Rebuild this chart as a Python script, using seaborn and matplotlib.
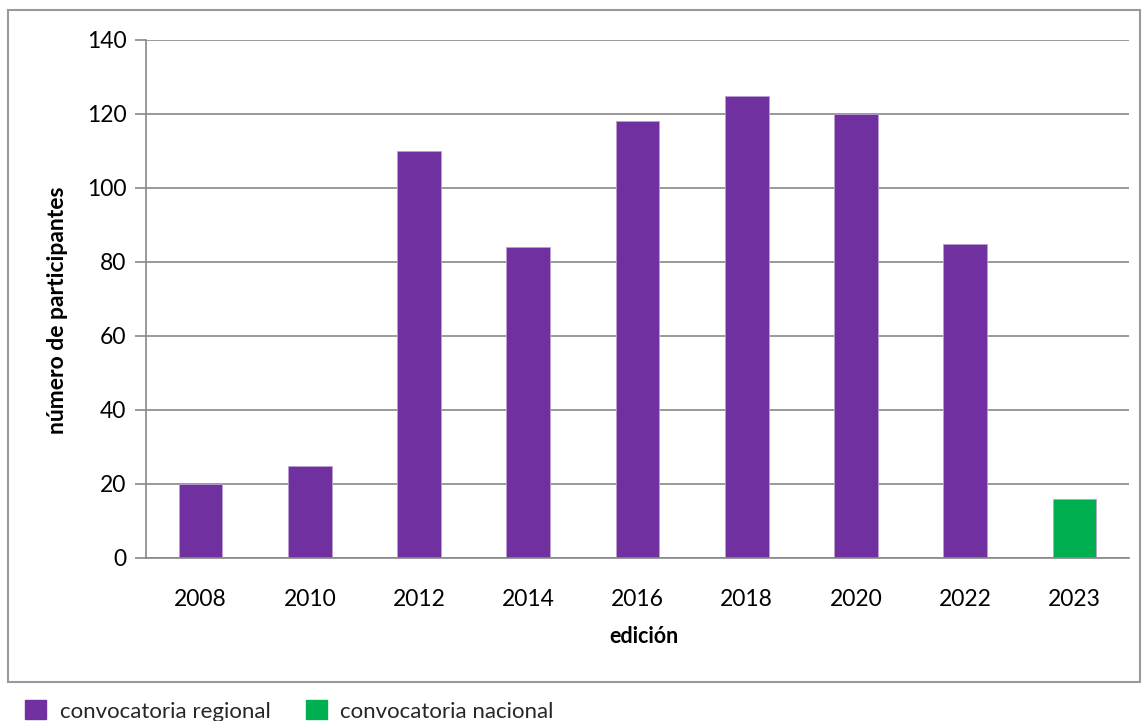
import pandas as pd
import matplotlib.pyplot as plt
import seaborn as sns
from matplotlib.patches import Rectangle, Patch

# data
years = ["2008", "2010", "2012", "2014", "2016", "2018", "2020", "2022", "2023"]
participants = [20, 25, 110, 84, 118, 125, 120, 85, 16]
call_type = ["convocatoria regional"] * 8 + ["convocatoria nacional"]

palette = {"convocatoria regional": "#7030A0", "convocatoria nacional": "#00B050"}

df = pd.DataFrame({"edicion": years, "participantes": participants, "tipo": call_type})

sns.set_style("white")
plt.rcParams['font.family'] = ['Lato', 'DejaVu Sans']

fig = plt.figure(figsize=(11.47, 7.21), dpi=100)
ax = fig.add_axes([146 / 1147, 1 - 558 / 721, (1129 - 146) / 1147, (558 - 40) / 721])

sns.barplot(data=df, x="edicion", y="participantes", hue="tipo", palette=palette,
            dodge=False, width=0.4, saturation=1, ax=ax, legend=False,
            edgecolor="#b9a0d0", linewidth=0.6)

ax.set_ylim(0, 140)
ax.set_xlim(-0.5, len(years) - 0.5)
ax.set_yticks(range(0, 141, 20))
ax.yaxis.grid(True, color="#888888", linewidth=1.2)
ax.set_axisbelow(True)

for s in ["top", "right"]:
    ax.spines[s].set_visible(False)
for s in ["left", "bottom"]:
    ax.spines[s].set_color("#888888")
    ax.spines[s].set_linewidth(1.2)

# ticks on the category boundaries, as in the original
ax.set_xticks([i - 0.5 for i in range(len(years) + 1)], minor=True)
ax.tick_params(axis="x", which="minor", length=8, color="#888888", width=1.2, direction="out")
ax.tick_params(axis="x", which="major", length=0, pad=22, labelsize=16.5, labelcolor="black")
ax.tick_params(axis="y", length=8, color="#888888", width=1.2, direction="out", pad=6,
               labelsize=16.5, labelcolor="black")
ax.tick_params(left=True, which="major")

ax.set_xlabel("edición", fontsize=15.5, fontweight="bold", color="black")
ax.set_ylabel("número de participantes", fontsize=16.5, fontweight="bold", color="black")
ax.xaxis.set_label_coords(0.507, -0.131)
ax.yaxis.set_label_coords(-0.079, 0.479)

# outer chart frame
fig.patches.append(Rectangle((8 / 1147, 1 - 682 / 721), (1140 - 8) / 1147, (682 - 10) / 721,
                             transform=fig.transFigure, fill=False,
                             edgecolor="#999999", linewidth=1.5))

handles = [Patch(facecolor=palette[k], edgecolor=palette[k]) for k in palette]
fig.legend(handles, list(palette.keys()), loc="center left", bbox_to_anchor=(0.022, 0.014),
           ncol=2, frameon=False, fontsize=16, handlelength=0.95, handleheight=0.95,
           columnspacing=1.6, handletextpad=0.6, borderpad=0.0, borderaxespad=0.0)

fig.savefig("out.png", dpi=100)
